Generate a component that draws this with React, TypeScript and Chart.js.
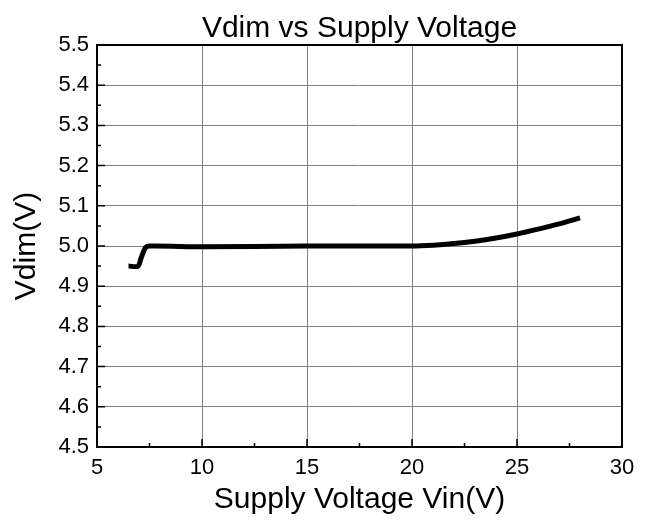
import React, { useEffect, useRef } from "react";
import { Chart, registerables } from "chart.js";
Chart.register(...registerables);

const vin = [6.5, 6.95, 7.1, 7.3, 7.5, 10, 15, 20, 21, 22, 23, 24, 25, 26, 27, 28];
const vdim = [4.95, 4.95, 4.97, 4.995, 5.0, 4.998, 5.0, 5.0, 5.002, 5.006, 5.012, 5.02, 5.03, 5.042, 5.055, 5.07];
const xMinorTicks = [7.5, 12.5, 17.5, 22.5, 27.5];
const yMinorTicks = [4.55, 4.65, 4.75, 4.85, 4.95, 5.05, 5.15, 5.25, 5.35, 5.45];

const FONT = "'Liberation Sans', Arial, sans-serif";

const framePlugin = {
  id: "frame",
  afterDatasetsDraw(chart: any) {
    const { ctx, chartArea: a, scales } = chart;
    ctx.save();
    ctx.strokeStyle = "#000";
    ctx.lineWidth = 2;
    ctx.strokeRect(a.left, a.top, a.right - a.left, a.bottom - a.top);
    ctx.lineWidth = 1.5;
    ctx.beginPath();
    for (const v of scales.x.ticks.map((t: any) => t.value)) {
      const px = scales.x.getPixelForValue(v);
      ctx.moveTo(px, a.bottom);
      ctx.lineTo(px, a.bottom - 8);
    }
    for (const v of xMinorTicks) {
      const px = scales.x.getPixelForValue(v);
      ctx.moveTo(px, a.bottom);
      ctx.lineTo(px, a.bottom - 4);
    }
    for (const v of scales.y.ticks.map((t: any) => t.value)) {
      const py = scales.y.getPixelForValue(v);
      ctx.moveTo(a.left, py);
      ctx.lineTo(a.left + 8, py);
    }
    for (const v of yMinorTicks) {
      const py = scales.y.getPixelForValue(v);
      ctx.moveTo(a.left, py);
      ctx.lineTo(a.left + 4, py);
    }
    ctx.stroke();
    ctx.restore();
  },
};

export default function App() {
  const ref = useRef<HTMLCanvasElement>(null);
  useEffect(() => {
    document.body.style.margin = "0";
    const chart = new Chart(ref.current!, {
      type: "line",
      data: {
        datasets: [
          {
            data: vin.map((x, i) => ({ x, y: vdim[i] })),
            borderColor: "#000",
            borderWidth: 5,
            pointRadius: 0,
            tension: 0.3,
            fill: false,
          },
        ],
      },
      options: {
        animation: false,
        responsive: false,
        layout: { padding: { left: 0, right: 27, top: 0, bottom: 0 } },
        plugins: {
          legend: { display: false },
          tooltip: { enabled: false },
          title: {
            display: true,
            text: "Vdim vs Supply Voltage",
            color: "#000",
            fullSize: false,
            font: { family: FONT, size: 30, weight: "normal", lineHeight: 1.0 },
            padding: { top: 14, bottom: 1 },
          },
        },
        scales: {
          x: {
            type: "linear",
            min: 5,
            max: 30,
            ticks: { stepSize: 5, color: "#000", font: { family: FONT, size: 22 }, padding: 8 },
            grid: { color: "#808080", lineWidth: 1, drawTicks: false },
            border: { display: false },
            title: {
              display: true,
              text: "Supply Voltage Vin(V)",
              color: "#000",
              font: { family: FONT, size: 30 },
              padding: { top: 0, bottom: 2 },
            },
            afterFit(scale: any) {
              scale.height = 73;
            },
          },
          y: {
            type: "linear",
            min: 4.5,
            max: 5.5,
            ticks: {
              stepSize: 0.1,
              color: "#000",
              font: { family: FONT, size: 22 },
              padding: 8,
              callback: (v: any) => Number(v).toFixed(1),
            },
            grid: { color: "#808080", lineWidth: 1, drawTicks: false },
            border: { display: false },
            title: {
              display: true,
              text: "Vdim(V)",
              color: "#000",
              font: { family: FONT, size: 30 },
              padding: { top: 9, bottom: 9 },
            },
            afterFit(scale: any) {
              scale.width = 97;
            },
          },
        },
      },
      plugins: [framePlugin],
    });
    return () => chart.destroy();
  }, []);
  return (
    <div style={{ position: "absolute", left: 0, top: 0, width: 649, height: 520, background: "#fff" }}>
      <canvas ref={ref} width={649} height={520} />
    </div>
  );
}
